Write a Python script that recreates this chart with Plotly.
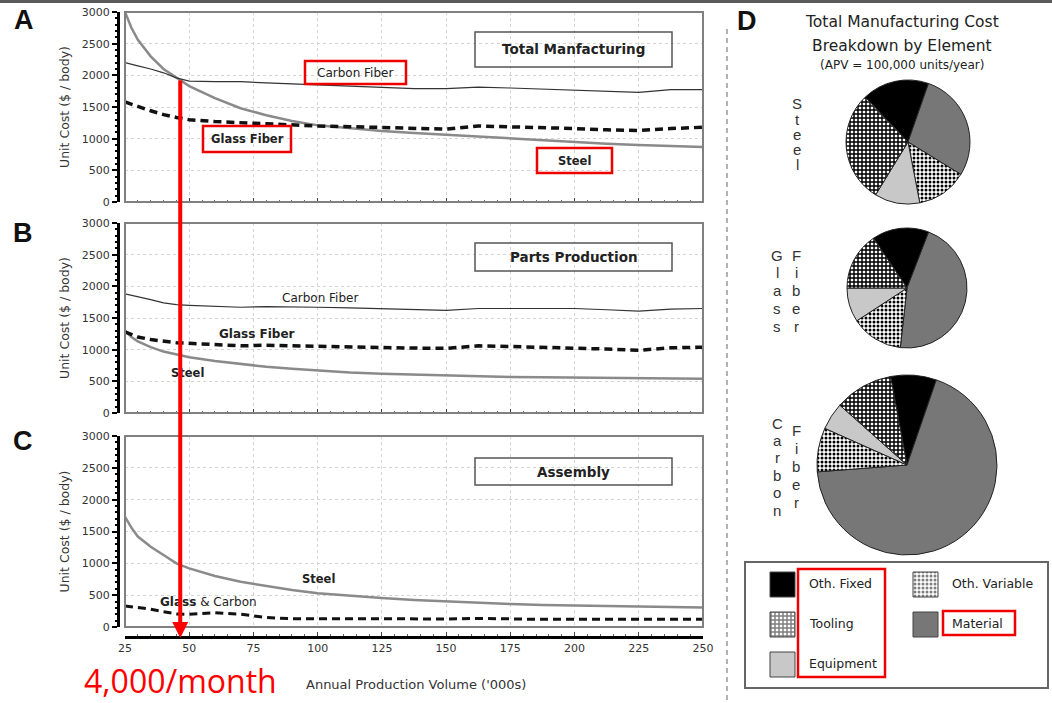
import plotly.graph_objects as go

W, H = 1052, 703

# ---------------- data ----------------
X_VOL = [25, 27.5, 30, 35, 40, 45, 50, 60, 70, 80, 90, 100, 112.5, 125, 137.5,
         150, 162.5, 175, 187.5, 200, 212.5, 225, 237.5, 250]

A_STEEL = [3000, 2750, 2560, 2300, 2100, 1960, 1830, 1640, 1480, 1370, 1280, 1210,
           1160, 1120, 1090, 1060, 1030, 1000, 970, 940, 920, 900, 885, 870]
A_CARBON = [2200, 2180, 2150, 2100, 2040, 1960, 1910, 1900, 1900, 1880, 1860, 1850,
            1830, 1810, 1790, 1790, 1815, 1800, 1780, 1770, 1750, 1730, 1775, 1775]
A_GLASS = [1580, 1550, 1510, 1440, 1380, 1335, 1300, 1270, 1250, 1230, 1210, 1200,
           1190, 1180, 1165, 1150, 1200, 1190, 1175, 1160, 1140, 1130, 1160, 1180]

B_STEEL = [1300, 1200, 1130, 1040, 970, 920, 880, 820, 770, 730, 700, 670,
           640, 620, 605, 590, 580, 570, 565, 560, 555, 550, 545, 540]
B_CARBON = [1880, 1860, 1830, 1790, 1740, 1710, 1700, 1690, 1670, 1680, 1670, 1670,
            1660, 1650, 1640, 1620, 1650, 1650, 1650, 1650, 1630, 1610, 1640, 1650]
B_GLASS = [1280, 1240, 1200, 1160, 1130, 1110, 1100, 1080, 1060, 1070, 1060, 1050,
           1040, 1030, 1025, 1020, 1060, 1050, 1040, 1030, 1010, 990, 1030, 1040]

C_STEEL = [1730, 1560, 1420, 1260, 1130, 1000, 920, 800, 710, 640, 580, 530,
           490, 455, 425, 400, 380, 360, 345, 335, 325, 315, 310, 305]
C_GLASS_CARBON = [330, 320, 310, 280, 240, 205, 200, 225, 200, 150, 130, 125,
                  130, 130, 125, 125, 135, 125, 120, 120, 120, 120, 120, 120]

X_TICKS = [25, 50, 75, 100, 125, 150, 175, 200, 225, 250]
Y_TICKS = [0, 500, 1000, 1500, 2000, 2500, 3000]

PIE_LABELS = ["Oth. Fixed", "Material", "Oth. Variable", "Equipment", "Tooling"]
PIE_STEEL = [17.5, 28.4, 13.2, 11.8, 29.1]
PIE_GLASS = [15.3, 45.9, 14.0, 9.2, 15.6]
PIE_CARBON = [8.2, 68.5, 7.9, 4.9, 10.5]

ARROW_X = 46.5  # annual volume ('000s) marked by the red arrow

# ---------------- styles ----------------
FONT = "DejaVu Sans"
PIE_COLORS = ["#000000", "#777777", "#ffffff", "#c8c8c8", "#ffffff"]
PIE_PATTERNS = ["", "", ".", "", "+"]
PIE_SIZES = [6, 6, 4, 6, 4]
PIE_SOLID = [0.3, 0.3, 0.45, 0.3, 0.6]
STYLE = {
    "steel": dict(color="#8a8a8a", width=2.5),
    "carbon": dict(color="#333333", width=1.2),
    "glass": dict(color="#111111", width=3.5, dash="8px,5px"),
    "gc": dict(color="#111111", width=3, dash="8px,5px"),
}


def px(x):
    return x / W


def py(y):
    return 1 - y / H


fig = go.Figure()
shapes = []
ann = []

panels = [
    ("", 12, 202, [(A_STEEL, "steel"), (A_CARBON, "carbon"), (A_GLASS, "glass")]),
    ("2", 223, 413, [(B_STEEL, "steel"), (B_CARBON, "carbon"), (B_GLASS, "glass")]),
    ("3", 436, 627, [(C_STEEL, "steel"), (C_GLASS_CARBON, "gc")]),
]

for key, top, bot, series in panels:
    for vals, st in series:
        fig.add_trace(go.Scatter(x=X_VOL, y=vals, mode="lines", line=STYLE[st],
                                 xaxis="x" + key, yaxis="y" + key, showlegend=False,
                                 hoverinfo="skip"))
    is_c = key == "3"
    xa = dict(domain=[px(125), px(703)], range=[25, 250], showgrid=True,
              gridcolor="#d4d4d4", griddash="dot", gridwidth=1,
              tickmode="array", tickvals=X_TICKS, zeroline=False,
              ticks="inside", ticklen=4, tickcolor="#444",
              minor=dict(dtick=5, tick0=25, ticks="inside", ticklen=2, tickcolor="#666",
                         showgrid=False),
              tickfont=dict(family=FONT, size=11, color="#333"))
    if is_c:
        xa.update(anchor="free", position=py(637), showline=True, linewidth=3,
                  linecolor="black", showticklabels=True)
    else:
        xa.update(anchor="y" + key, showline=False, showticklabels=False)
    ya = dict(domain=[py(bot), py(top)], range=[0, 3000], anchor="free",
              position=px(118), showline=True, linewidth=3, linecolor="black",
              tickmode="array", tickvals=Y_TICKS, ticks="outside", ticklen=5,
              tickwidth=1.5, tickcolor="black", showgrid=True, gridcolor="#d4d4d4",
              griddash="dot", zeroline=False,
              minor=dict(dtick=100, ticks="outside", ticklen=2, tickcolor="black",
                         showgrid=False),
              tickfont=dict(family=FONT, size=11, color="#333"))
    fig.update_layout(**{"xaxis" + key: xa, "yaxis" + key: ya})
    shapes.append(dict(type="rect", xref="x%s domain" % key, yref="y%s domain" % key,
                       x0=0, x1=1, y0=0, y1=1, line=dict(color="#808080", width=2)))
    ann.append(dict(text="Unit Cost ($ / body)", x=px(64), y=py((top + bot) / 2),
                    xref="paper", yref="paper", showarrow=False, textangle=-90,
                    xanchor="center", yanchor="middle",
                    font=dict(family=FONT, size=12.5, color="#333")))

# helper axis (pixel units) covering only the legend box, for the swatches
LX0, LX1, LY0, LY1 = 745, 1048, 562, 688
fig.update_layout(xaxis4=dict(domain=[px(LX0), px(LX1)], range=[LX0, LX1], visible=False,
                              anchor="y4", fixedrange=True),
                  yaxis4=dict(domain=[py(LY1), py(LY0)], range=[LY1, LY0], visible=False,
                              anchor="x4", fixedrange=True))

# ---------------- pies ----------------
pies = [(PIE_STEEL, -43.7, (846, 970, 80, 204)),
        (PIE_GLASS, -33.9, (847, 967, 228, 348)),
        (PIE_CARBON, -10.5, (817, 997, 375, 555))]
for vals, rot, (x0, x1, y0, y1) in pies:
    fig.add_trace(go.Pie(labels=PIE_LABELS, values=vals, sort=False,
                         direction="clockwise", rotation=rot, textinfo="none",
                         showlegend=False, hoverinfo="label+percent",
                         domain=dict(x=[px(x0), px(x1)], y=[py(y1), py(y0)]),
                         marker=dict(colors=PIE_COLORS,
                                     line=dict(color="#222", width=1),
                                     pattern=dict(shape=PIE_PATTERNS, fgcolor="black",
                                                  bgcolor=PIE_COLORS, size=PIE_SIZES,
                                                  solidity=PIE_SOLID))))


def txt(t, x, y, size=12, bold=False, color="#222", family=FONT, xanchor="center",
        yanchor="middle", **kw):
    ann.append(dict(text=("<b>%s</b>" % t) if bold else t, x=px(x), y=py(y),
                    xref="paper", yref="paper", showarrow=False, xanchor=xanchor,
                    yanchor=yanchor, font=dict(family=family, size=size, color=color), **kw))


# legend swatches
LEG_ORDER = ["Oth. Fixed", "Tooling", "Equipment", "Oth. Variable", "Material"]
for i, name in enumerate(LEG_ORDER):
    col, row = (0, i) if i < 3 else (1, i - 3)
    j = PIE_LABELS.index(name)
    sx0 = [770, 913][col]
    sy0 = [572, 612, 652][row]
    sx1, sy1 = sx0 + 25, sy0 + 25
    sc = dict(x=[sx0, sx1, sx1, sx0, sx0], y=[sy0, sy0, sy1, sy1, sy0],
              xaxis="x4", yaxis="y4", mode="lines", fill="toself",
              fillcolor=PIE_COLORS[j], line=dict(color="#444", width=1),
              showlegend=False, hoverinfo="skip")
    if PIE_PATTERNS[j]:
        sc["fillpattern"] = dict(shape=PIE_PATTERNS[j], fgcolor="black",
                                 bgcolor=PIE_COLORS[j], size=PIE_SIZES[j],
                                 solidity=PIE_SOLID[j])
    fig.add_trace(go.Scatter(**sc))
    txt(name, sx0 + 37, sy0 + 11, 12.5, xanchor="left")

# ---------------- text ----------------
for letter, (lx, ly) in zip("ABCD", [(24, 20), (23, 233), (23, 441), (747, 21)]):
    txt(letter, lx, ly, size=27, bold=True, color="#111", family="Liberation Sans")

txt("Carbon Fiber", 355, 73, 12)
txt("Glass Fiber", 247, 139, 11.5, True)
txt("Steel", 574, 161, 11.5, True)
txt("Carbon Fiber", 320, 298, 12)
txt("Glass Fiber", 257, 334, 12, True)
txt("Steel", 187, 373, 11.5, True)
txt("Steel", 318, 579, 11.5, True)
txt("<b>Glass</b> & Carbon", 208, 602, 12)

for t, (bx0, by0, bx1, by1) in [("Total Manfacturing", (475, 32, 672, 67)),
                                ("Parts Production", (475, 243, 672, 271)),
                                ("Assembly", (475, 458, 672, 485))]:
    shapes.append(dict(type="rect", xref="paper", yref="paper", x0=px(bx0), x1=px(bx1),
                       y0=py(by1), y1=py(by0), line=dict(color="#555", width=1.5)))
    txt(t, (bx0 + bx1) / 2, (by0 + by1) / 2, 13.5, True)

txt("Annual Production Volume ('000s)", 416, 684, 13, color="#333")

txt("Total Manufacturing Cost", 902, 22, 15.5, color="#222")
txt("Breakdown by Element", 902, 46, 15.5, color="#222")
txt("(APV = 100,000 units/year)", 902, 65, 12, color="#222")


# vertical pie labels
def vlabel(word, x, y0, step):
    for k, ch in enumerate(word):
        txt(ch, x, y0 + k * step, 15, color="#333", family="Liberation Sans")


vlabel("Steel", 797, 104, 15.2)
vlabel("Glass", 777, 255, 17.8)
vlabel("Fiber", 796, 255, 17.8)
vlabel("Carbon", 777, 423, 17.4)
vlabel("Fiber", 796, 430, 18)

# red annotations
txt("4,000/month", 180, 703, 32, color="#ff0000", family="Open Sans", yanchor="bottom",
    borderpad=0)
ann.append(dict(x=ARROW_X, y=py(638), xref="x3", yref="paper", text="", showarrow=True,
                ax=0, ay=-(638 - 79), arrowcolor="#ff0000", arrowwidth=4, arrowhead=2,
                arrowsize=0.8))

for (rx0, ry0, rx1, ry1) in [(305, 61, 406, 84), (203, 126, 291, 152), (537, 148, 612, 173),
                             (798, 569, 885, 677), (943, 611, 1015, 635)]:
    shapes.append(dict(type="rect", xref="paper", yref="paper", x0=px(rx0), x1=px(rx1),
                       y0=py(ry1), y1=py(ry0), line=dict(color="#ee0000", width=2.5)))

# legend box, separator, top bar
shapes.append(dict(type="rect", xref="paper", yref="paper", x0=px(LX0), x1=px(LX1),
                   y0=py(LY1), y1=py(LY0), line=dict(color="#666", width=2), layer="below"))
shapes.append(dict(type="line", xref="paper", yref="paper", x0=px(727), x1=px(727),
                   y0=py(700), y1=py(28), line=dict(color="#999", width=1.5, dash="5px,4px")))
shapes.append(dict(type="rect", xref="paper", yref="paper", x0=0, x1=1, y0=py(3), y1=1,
                   fillcolor="#5a5a5a", line=dict(width=0)))

fig.update_layout(width=W, height=H, margin=dict(l=0, r=0, t=0, b=0, autoexpand=False),
                  paper_bgcolor="white", plot_bgcolor="rgba(0,0,0,0)", showlegend=False,
                  shapes=shapes, annotations=ann, font=dict(family=FONT))

fig.write_html("out.html", config={"displayModeBar": False})

# remove the page's default body margin so the figure fills the window exactly
with open("out.html", encoding="utf-8") as f:
    html = f.read()
html = html.replace("<head>", "<head><style>html,body{margin:0;padding:0;overflow:hidden}</style>", 1)
with open("out.html", "w", encoding="utf-8") as f:
    f.write(html)
